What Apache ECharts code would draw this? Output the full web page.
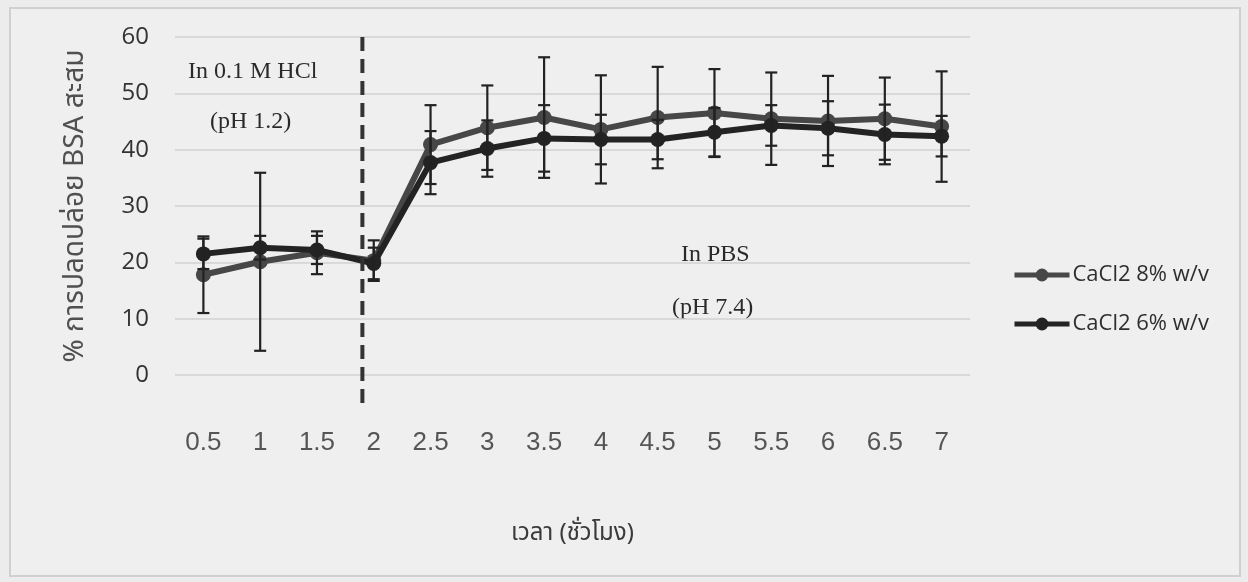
<!DOCTYPE html>
<html>
<head>
<meta charset="utf-8">
<title>BSA release</title>
<script src="https://cdn.jsdelivr.net/npm/echarts@6/dist/echarts.min.js"></script>
<style>
  html, body { margin: 0; padding: 0; background: #ececec; }
  #chart { width: 1248px; height: 582px; }
</style>
</head>
<body>
<div id="chart"></div>
<script>
// time points (hours)
const hours = ['0.5', '1', '1.5', '2', '2.5', '3', '3.5', '4', '4.5', '5', '5.5', '6', '6.5', '7'];

// cumulative BSA release (%) and SD
const cacl8 = [17.8, 20.1, 21.7, 20.3, 40.9, 43.9, 45.7, 43.6, 45.7, 46.5, 45.5, 45.1, 45.5, 44.1];
const cacl8Sd = [6.8, 15.8, 3.8, 3.6, 7.0, 7.5, 10.7, 9.6, 9.0, 7.8, 8.2, 8.0, 7.3, 9.8];
const cacl6 = [21.5, 22.6, 22.2, 19.8, 37.7, 40.2, 42.0, 41.8, 41.8, 43.1, 44.3, 43.8, 42.7, 42.4];
const cacl6Sd = [2.7, 2.1, 2.5, 2.8, 5.6, 5.0, 5.9, 4.4, 3.5, 4.3, 3.6, 4.8, 5.3, 3.6];

// y axis ticks
const yMin = 0, yMax = 60, yStep = 10;

// medium change HCl -> PBS (hours)
const phaseBoundary = 1.9;

const hourNums = hours.map(Number);
const nextIdx = hourNums.findIndex(h => h > phaseBoundary);
const frac = (phaseBoundary - hourNums[nextIdx - 1]) / (hourNums[nextIdx] - hourNums[nextIdx - 1]);

const errData = (vals, sd) => vals.map((v, i) => [i, v - sd[i], v + sd[i]]);

function errorBar(params, api) {
  const i = api.value(0);
  const lo = api.coord([i, api.value(1)]);
  const hi = api.coord([i, api.value(2)]);
  const cap = 6;
  const style = { stroke: '#222', lineWidth: 2.2 };
  return {
    type: 'group',
    children: [
      { type: 'line', shape: { x1: hi[0], y1: hi[1], x2: lo[0], y2: lo[1] }, style },
      { type: 'line', shape: { x1: hi[0] - cap, y1: hi[1], x2: hi[0] + cap, y2: hi[1] }, style },
      { type: 'line', shape: { x1: lo[0] - cap, y1: lo[1], x2: lo[0] + cap, y2: lo[1] }, style }
    ]
  };
}

function divider(params, api) {
  const a = api.coord([nextIdx - 1, yMax]);
  const b = api.coord([nextIdx, yMax]);
  const x = a[0] + frac * (b[0] - a[0]);
  const bottom = api.coord([nextIdx, yMin - 5])[1];
  return {
    type: 'line',
    shape: { x1: x, y1: a[1], x2: x, y2: bottom },
    style: { stroke: '#333', lineWidth: 4, lineDash: [14, 8] }
  };
}

const serif = '"Liberation Serif", "DejaVu Serif", serif';
const thai = '"Noto Sans Thai", "Noto Serif Thai", "Loma", "Garuda", "Noto Sans", sans-serif';

const chart = echarts.init(document.getElementById('chart'));
chart.setOption({
  animation: false,
  backgroundColor: '#ececec',
  graphic: [
    {
      type: 'rect', z: -10, silent: true,
      shape: { x: 10, y: 8, width: 1230, height: 568 },
      style: { fill: '#efefef', stroke: '#d0d0d0', lineWidth: 2 }
    },
    { type: 'text', left: 188, top: 60, style: { text: 'In 0.1 M HCl', font: '24px ' + serif, fill: '#2a2a2a' } },
    { type: 'text', left: 210, top: 110, style: { text: '(pH 1.2)', font: '24px ' + serif, fill: '#2a2a2a' } },
    { type: 'text', left: 681, top: 243, style: { text: 'In PBS', font: '24px ' + serif, fill: '#2a2a2a' } },
    { type: 'text', left: 672, top: 296, style: { text: '(pH 7.4)', font: '24px ' + serif, fill: '#2a2a2a' } }
  ],
  grid: { left: 175, right: 278, top: 37, bottom: 207 },
  legend: {
    orient: 'vertical',
    left: 1012,
    top: 262,
    padding: 0,
    itemWidth: 55,
    itemHeight: 16,
    itemGap: 23,
    lineStyle: { width: 5 },
    data: ['CaCl2 8% w/v', 'CaCl2 6% w/v'],
    textStyle: { fontFamily: '"Open Sans", sans-serif', fontSize: 22, color: '#2e2e2e', lineHeight: 26, padding: [0, 0, 0, -2] }
  },
  xAxis: {
    type: 'category',
    data: hours,
    boundaryGap: true,
    name: 'เวลา (ชั่วโมง)',
    nameLocation: 'middle',
    nameGap: 148,
    nameTextStyle: { fontFamily: thai, fontSize: 24, color: '#3a3a3a' },
    axisLine: { show: false },
    axisTick: { show: false },
    axisLabel: { margin: 55, fontFamily: '"Liberation Sans", Arial, sans-serif', fontSize: 26, color: '#555' }
  },
  yAxis: {
    type: 'value',
    min: yMin,
    max: yMax,
    interval: yStep,
    name: '% การปลดปล่อย BSA สะสม',
    nameLocation: 'middle',
    nameGap: 84,
    nameTextStyle: { fontFamily: thai, fontSize: 28, color: '#505050' },
    axisLine: { show: false },
    axisTick: { show: false },
    axisLabel: { margin: 26, fontFamily: '"Open Sans", sans-serif', fontSize: 24, color: '#333' },
    splitLine: { lineStyle: { color: '#d2d2d2', width: 1.5 } }
  },
  series: [
    {
      name: 'CaCl2 8% w/v',
      type: 'line',
      data: cacl8,
      symbol: 'circle',
      symbolSize: 15,
      lineStyle: { width: 6, color: '#474747' },
      itemStyle: { color: '#474747' },
      z: 3
    },
    {
      name: 'CaCl2 6% w/v',
      type: 'line',
      data: cacl6,
      symbol: 'circle',
      symbolSize: 15,
      lineStyle: { width: 6, color: '#232323' },
      itemStyle: { color: '#232323' },
      z: 4
    },
    {
      type: 'custom',
      renderItem: errorBar,
      data: errData(cacl8, cacl8Sd),
      encode: { x: 0, y: [1, 2] },
      z: 5,
      silent: true
    },
    {
      type: 'custom',
      renderItem: errorBar,
      data: errData(cacl6, cacl6Sd),
      encode: { x: 0, y: [1, 2] },
      z: 5,
      silent: true
    },
    {
      type: 'custom',
      renderItem: divider,
      data: [[nextIdx, yMax]],
      encode: { x: 0, y: 1 },
      z: 6,
      silent: true
    }
  ]
});
window.onresize = () => chart.resize();
</script>
</body>
</html>
